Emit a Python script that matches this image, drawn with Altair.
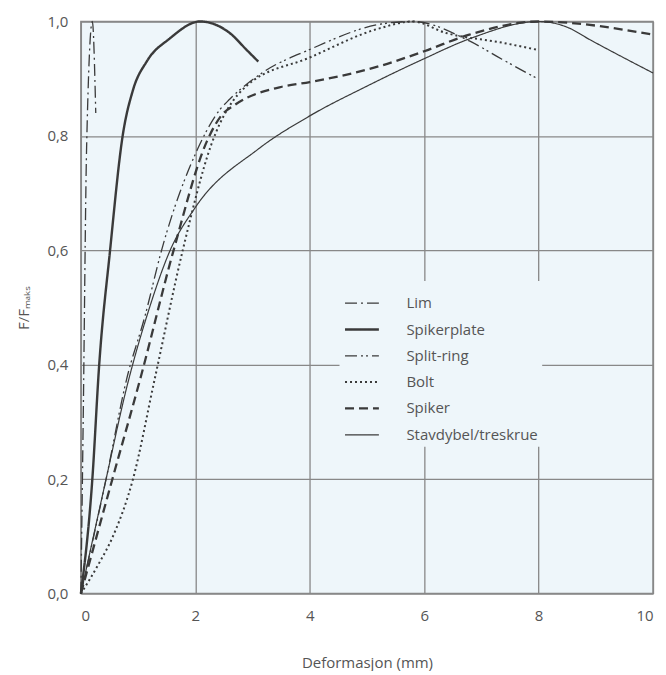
import altair as alt
import pandas as pd

# ---- data ----
series_names = ["Lim", "Spikerplate", "Split-ring", "Bolt", "Spiker", "Stavdybel/treskrue"]

lim_x = [0.0, 0.04, 0.1, 0.2, 0.26]
lim_y = [0.0, 0.30, 0.78, 1.0, 0.84]

spikerplate_x = [0.0, 0.2, 0.32, 0.51, 0.73, 0.91, 1.15, 1.55, 2.08, 2.6, 2.9, 3.1]
spikerplate_y = [0.0, 0.2, 0.4, 0.6, 0.8, 0.88, 0.93, 0.97, 1.0, 0.98, 0.95, 0.93]

splitring_x = [0.0, 0.44, 0.8, 1.12, 1.41, 2.04, 2.43, 2.6, 3.18, 4.0, 5.22, 5.8, 6.79, 7.36, 8.0]
splitring_y = [0.0, 0.2, 0.375, 0.485, 0.6, 0.777, 0.846, 0.864, 0.911, 0.951, 0.995, 1.0, 0.966, 0.934, 0.899]

bolt_x = [0.0, 0.3, 0.56, 0.91, 1.29, 1.78, 2.28, 2.89, 4.0, 5.22, 5.8, 6.38, 7.36, 8.0]
bolt_y = [0.0, 0.05, 0.1, 0.2, 0.375, 0.6, 0.785, 0.887, 0.937, 0.988, 1.0, 0.98, 0.963, 0.95]

spiker_x = [0.0, 0.55, 1.05, 1.62, 2.2, 2.45, 2.7, 3.47, 4.0, 5.22, 6.0, 6.79, 8.0, 10.0]
spiker_y = [0.0, 0.2, 0.38, 0.6, 0.79, 0.835, 0.855, 0.885, 0.894, 0.922, 0.948, 0.977, 1.0, 0.977]

stav_x = [0.0, 0.44, 0.8, 1.2, 1.56, 2.0, 3.1, 4.0, 5.0, 6.0, 6.8, 8.0, 8.5, 8.9, 10.0]
stav_y = [0.0, 0.2, 0.36, 0.5, 0.6, 0.675, 0.777, 0.835, 0.887, 0.935, 0.97, 1.0, 0.99, 0.968, 0.91]

x_ticks = [0, 2, 4, 6, 8, 10]
y_ticks = [0.0, 0.2, 0.4, 0.6, 0.8, 1.0]

dash_styles = [[12, 4, 2, 4], [1, 0], [12, 4, 2, 3, 2, 4], [2, 3], [9, 5], [1, 0]]
line_widths = [1.3, 2.4, 1.3, 2.0, 2.3, 1.2]

series_xy = [
    (lim_x, lim_y),
    (spikerplate_x, spikerplate_y),
    (splitring_x, splitring_y),
    (bolt_x, bolt_y),
    (spiker_x, spiker_y),
    (stav_x, stav_y),
]

rows = []
for name, (xs, ys) in zip(series_names, series_xy):
    for i, (xv, yv) in enumerate(zip(xs, ys)):
        rows.append({"serie": name, "x": xv, "y": yv, "order": i})
df = pd.DataFrame(rows)

FONT = "Open Sans"
TXT = "#555555"
BG = "#eef6fa"


def make_legend():
    return alt.Legend(
        title=None,
        orient="none",
        legendX=259,
        legendY=260,
        symbolType="stroke",
        symbolSize=1150,
        symbolStrokeColor="#3a3a3a",
        labelFontSize=15,
        labelFont=FONT,
        labelColor=TXT,
        labelOffset=26,
        rowPadding=0,
        fillColor=BG,
        padding=4,
    )


chart = (
    alt.Chart(df)
    .mark_line(interpolate="monotone", color="#3a3a3a", strokeCap="butt")
    .encode(
        x=alt.X(
            "x:Q",
            scale=alt.Scale(domain=[0, 10], nice=False),
            axis=alt.Axis(
                values=x_ticks,
                title="Deformasjon (mm)",
                format="d",
                labelPadding=15,
                titlePadding=32,
            ),
        ),
        y=alt.Y(
            "y:Q",
            scale=alt.Scale(domain=[0, 1], nice=False),
            axis=alt.Axis(
                values=y_ticks,
                title="F/Fₘₐₖₛ",
                labelExpr="replace(format(datum.value, '.1f'), '.', ',')",
                labelPadding=13,
                titlePadding=15,
            ),
        ),
        strokeDash=alt.StrokeDash(
            "serie:N",
            scale=alt.Scale(domain=series_names, range=dash_styles),
            legend=make_legend(),
        ),
        strokeWidth=alt.StrokeWidth(
            "serie:N",
            scale=alt.Scale(type="ordinal", domain=series_names, range=line_widths),
            legend=make_legend(),
        ),
        order="order:Q",
        detail="serie:N",
    )
    .properties(width=573, height=573, padding={"left": 8, "top": 6, "right": 0, "bottom": 0})
    .configure_view(fill=BG, stroke="#888888", strokeWidth=1.5)
    .configure_axis(
        grid=True,
        gridColor="#888888",
        gridWidth=1.3,
        gridOpacity=1,
        domain=False,
        ticks=False,
        labelFont=FONT,
        labelFontSize=15,
        labelColor=TXT,
        titleFont=FONT,
        titleFontSize=15,
        titleFontWeight="normal",
        titleColor=TXT,
    )
)

chart.save("out.html", embed_options={"renderer": "svg", "actions": False})
